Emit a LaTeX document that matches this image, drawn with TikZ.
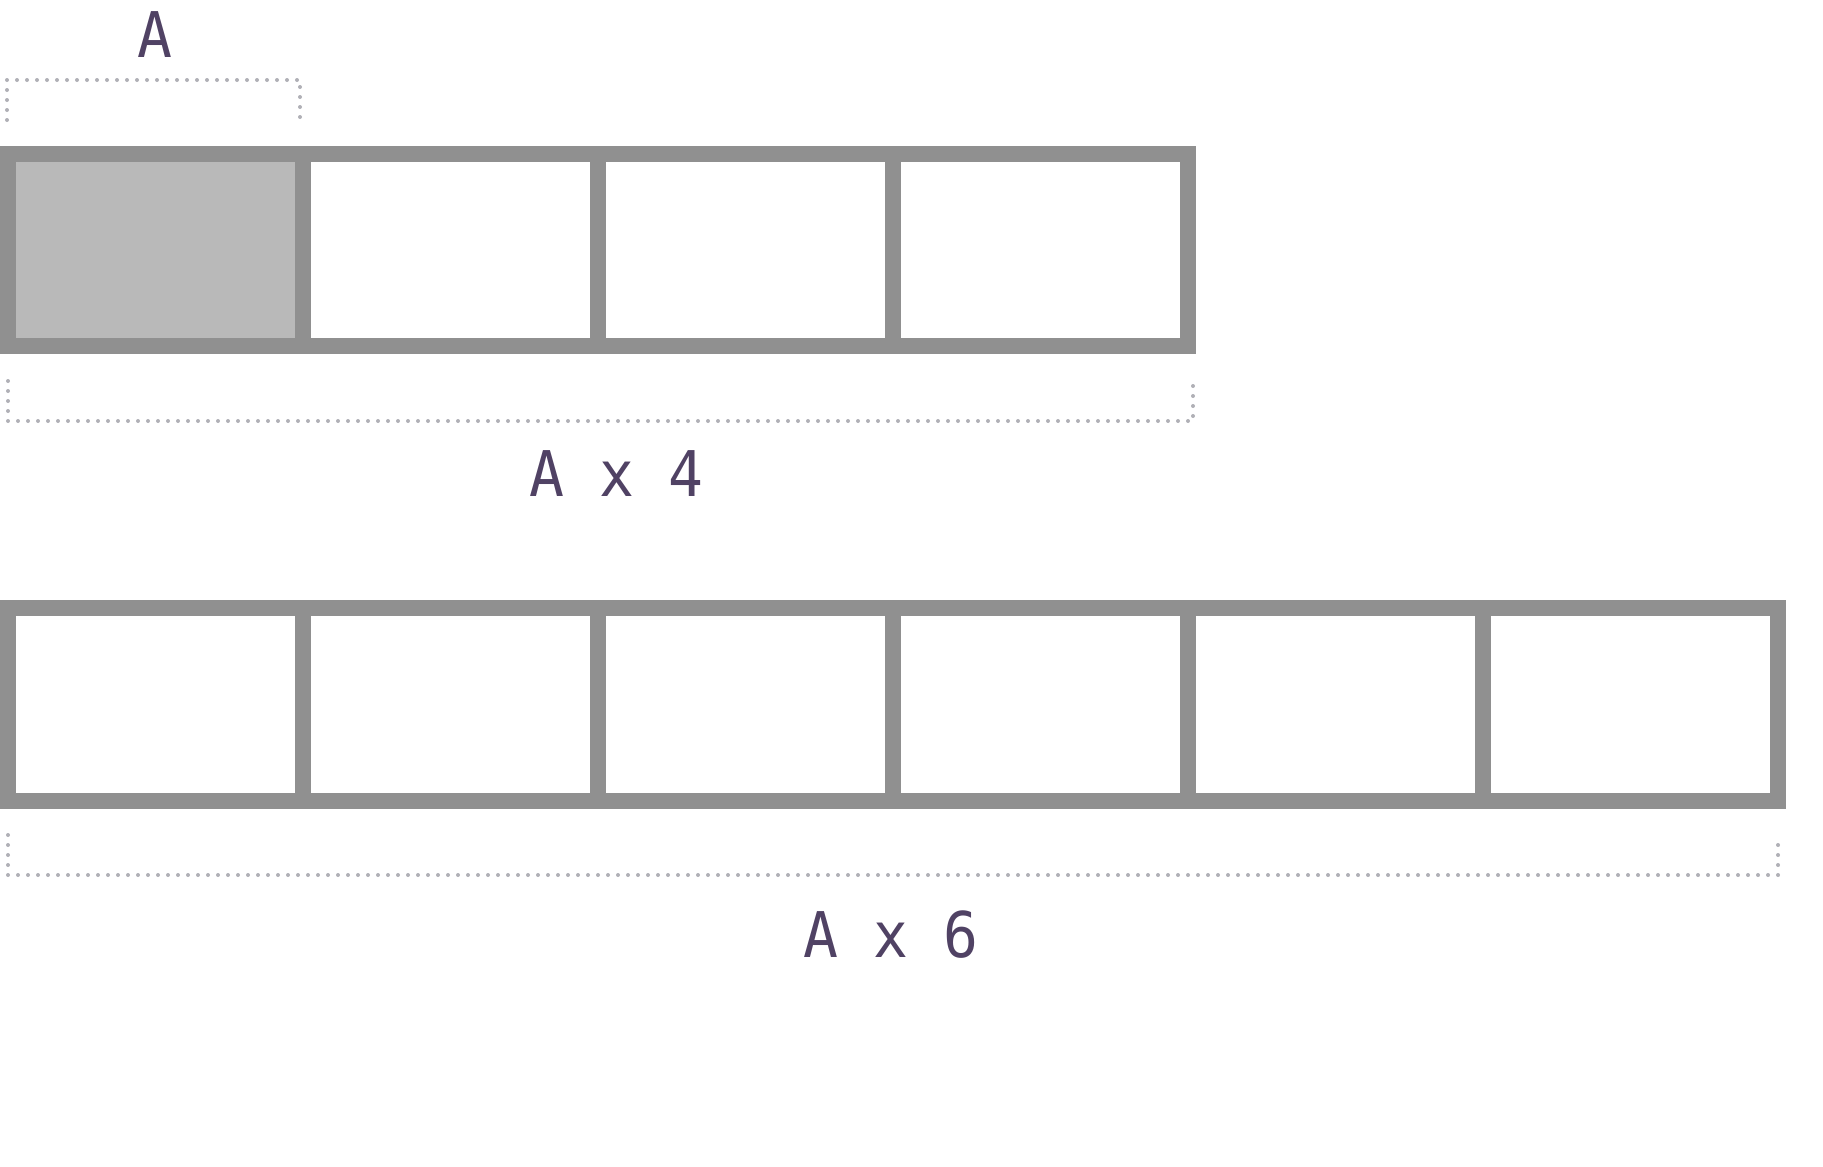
\documentclass[tikz,border=0pt]{standalone}
\usepackage{fontspec}
\newfontfamily\labfont{DejaVu Sans Mono}
\definecolor{gridgray}{HTML}{909090}
\definecolor{cellfill}{HTML}{B9B9B9}
\definecolor{dotgray}{HTML}{B0B0B6}
\definecolor{labcol}{HTML}{504264}
\tikzset{
  cell/.style={draw=gridgray, line width=16pt, minimum width=295pt, inner sep=0pt, outer sep=0pt},
  toprow/.style={cell, minimum height=192pt},
  botrow/.style={cell, minimum height=193pt},
  bracket/.style={draw=dotgray, line width=4pt, line cap=round, dash pattern=on 0pt off 10pt},
  lab/.style={text=labcol, font=\labfont\fontsize{63}{63}\selectfont, anchor=base, inner sep=0pt}
}
\begin{document}
\begin{tikzpicture}[x=1pt,y=-1pt]
\useasboundingbox (0,0) rectangle (1823,1167);
% fills
\fill[cellfill] (8,154) rectangle (303,346);
% top row
\foreach \i in {1,...,4}{
  \node[toprow] (t\i) at ({155.5+295*(\i-1)},250) {};
}
% bottom row
\foreach \i in {1,...,6}{
  \node[botrow] (b\i) at ({155.5+295*(\i-1)},704.5) {};
}
% brackets
\coordinate (a1) at (7,120);
\coordinate (a2) at (7,80);
\coordinate (a3) at (300,80);
\coordinate (a4) at (300,120);
\draw[bracket] (a1) -- (a2) -- (a3) -- (a4);
\coordinate (c1) at (8,381);
\coordinate (c2) at (8,421);
\coordinate (c3) at (1193,421);
\coordinate (c4) at (1193,381);
\draw[bracket] (c1) -- (c2) -- (c3) -- (c4);
\coordinate (d1) at (8,835);
\coordinate (d2) at (8,875);
\coordinate (d3) at (1778,875);
\coordinate (d4) at (1778,835);
\draw[bracket] (d1) -- (d2) -- (d3) -- (d4);
% labels
\node[lab, xscale=0.92] (la) at (155,57) {A};
\node[lab, xscale=0.92] (l4) at (616.5,496) {A x 4};
\node[lab, xscale=0.92] (l6) at (891,957) {A x 6};
\end{tikzpicture}
\end{document}
